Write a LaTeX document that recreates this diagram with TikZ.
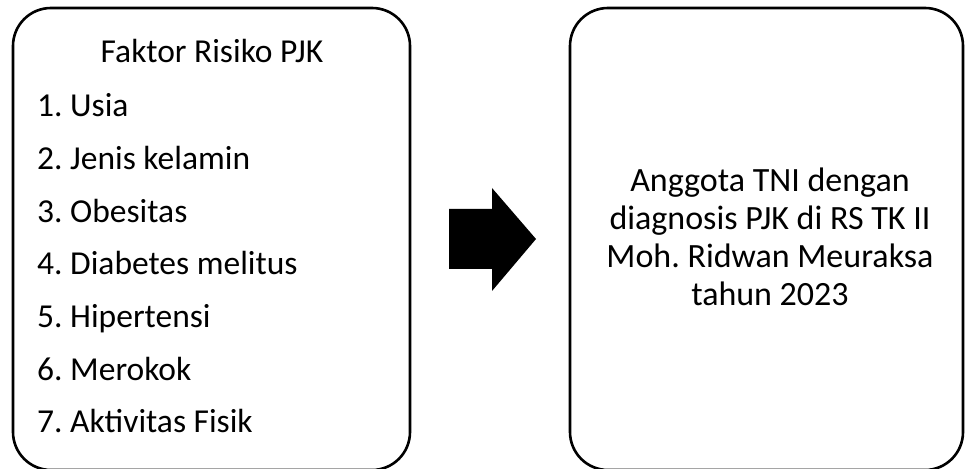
\documentclass[tikz,border=0pt]{standalone}
\usepackage{fontspec}
\setmainfont{Carlito}
\begin{document}
\frenchspacing
\begin{tikzpicture}[x=1pt,y=1pt,
  panel/.style={draw=black,line width=2.6pt,rounded corners=38pt,inner sep=0pt},
  item/.style={anchor=base west,inner sep=0pt,font=\fontsize{33.5}{40}\selectfont},
  bigline/.style={anchor=base,inner sep=0pt,font=\fontsize{34}{38}\selectfont}]
\useasboundingbox (0,0) rectangle (965,468);
\node[panel,minimum width=397pt,minimum height=462pt] (left) at (211.5,229) {};
\node[panel,minimum width=393pt,minimum height=462pt] (right) at (766.5,229) {};
\node[item,anchor=base] (title) at (212,405) {Faktor Risiko PJK};
\node[item] (i1) at (37,351) {1. Usia};
\node[item] (i2) at (37,298.3) {2. Jenis kelamin};
\node[item] (i3) at (37,245.7) {3. Obesitas};
\node[item] (i4) at (37,193) {4. Diabetes melitus};
\node[item] (i5) at (37,140.3) {5. Hipertensi};
\node[item] (i6) at (37,87.7) {6. Merokok};
\node[item] (i7) at (37,35) {7. Aktivitas Fisik};
\node[bigline] (d1) at (770,276) {Anggota TNI dengan};
\node[bigline] (d2) at (770,238) {diagnosis PJK di RS TK II};
\node[bigline] (d3) at (770,200) {Moh. Ridwan Meuraksa};
\node[bigline] (d4) at (770,162) {tahun 2023};
\fill[black] (449,259) -- (492,259) -- (492,280) -- (536,229) -- (492,177) -- (492,199) -- (449,199) -- cycle;
\end{tikzpicture}
\end{document}
